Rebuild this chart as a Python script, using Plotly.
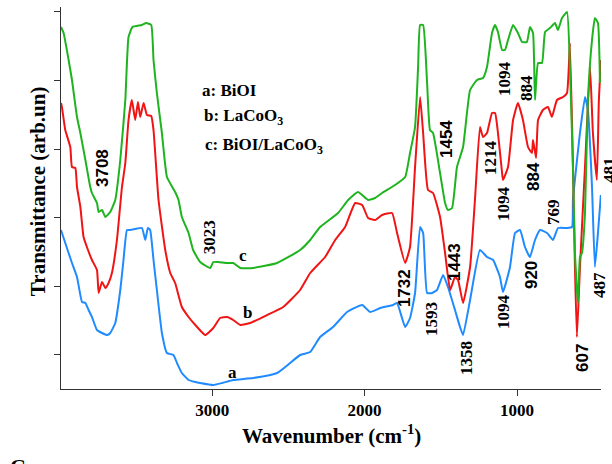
import plotly.graph_objects as go

# ---- data (wavenumber in cm^-1, transmittance in arbitrary units) ----
wn_a = [3992,3964,3920,3887,3854,3832,3811,3789,3756,3723,3690,3669,3636,3603,3582,3559,3538,3505,3461,3439,
        3422,3407,3385,3363,3330,3297,3254,3231,3199,3155,3111,3079,2993,2934,2862,2731,2574,2423,2357,2292,
        2207,2115,2016,1964,1898,1813,1787,1734,1702,1669,1636,1616,1590,1557,1525,1485,1453,1407,1374,1354,
        1308,1243,1197,1157,1112,1092,1046,1013,980,948,915,882,849,803,764,731,672,639,633,587,
        554,535,508,489,469,450]
t_a = [159,146,126,112,87,86,79,72,59,56,54,56,66,99,129,159,159,160,161,149,
       161,159,129,99,56,36,34,26,16,9,7,6,4,6,9,11,16,34,37,52,
       62,77,84,77,81,84,86,62,71,96,162,156,96,96,99,114,102,79,62,54,
       89,139,132,129,112,97,122,156,159,142,132,149,159,156,149,161,161,162,189,256,
       292,279,202,122,156,194]

wn_b = [3992,3986,3964,3931,3920,3898,3887,3865,3844,3822,3789,3756,3745,3723,3701,3680,3658,3625,3592,3570,
        3549,3527,3505,3487,3472,3450,3428,3400,3385,3352,3308,3275,3243,3199,3155,3111,3046,2993,2948,2902,
        2862,2816,2751,2639,2534,2423,2357,2259,2193,2128,2062,2016,1977,1931,1885,1820,1787,1734,1702,1669,
        1636,1616,1584,1551,1505,1472,1439,1407,1387,1354,1308,1276,1243,1223,1197,1164,1144,1125,1098,1092,
        1059,1026,994,961,928,902,895,875,862,830,797,771,738,698,672,653,633,620,607,587,
        554,521,502,476,463,450]
t_b = [286,282,259,242,222,221,202,182,152,142,129,119,96,107,101,106,116,149,202,226,
       269,289,269,287,272,286,274,273,259,189,139,116,106,82,72,64,54,61,71,72,
       69,64,66,74,82,99,116,132,149,162,186,184,171,169,174,176,156,126,142,222,
       292,256,199,196,172,136,99,112,109,86,122,189,262,252,256,276,276,256,216,209,
       222,269,286,269,242,236,249,231,269,279,282,272,289,292,296,346,222,122,52,122,
       222,322,256,209,289,329]

wn_c = [3992,3975,3942,3920,3887,3865,3832,3800,3789,3756,3745,3723,3701,3669,3636,3603,3570,3549,3523,3461,
        3433,3400,3385,3363,3330,3297,3243,3221,3199,3155,3125,3079,3013,2993,2961,2902,2862,2816,2731,2574,
        2423,2357,2292,2174,2108,2043,1977,1931,1885,1800,1734,1702,1669,1649,1636,1616,1590,1571,1551,1505,
        1472,1453,1426,1394,1354,1308,1262,1223,1197,1164,1144,1125,1098,1079,1059,1026,994,967,935,915,
        895,882,862,836,816,784,751,731,705,672,653,633,620,600,587,574,554,535,508,489,
        469,456]
t_c = [362,356,329,309,272,256,229,202,196,186,177,179,172,177,189,229,289,352,362,364,
       366,364,329,296,256,212,197,189,172,156,139,127,121,127,127,126,126,121,121,126,
       139,149,162,176,189,197,189,191,196,204,212,236,262,322,364,364,306,259,256,216,
       186,179,181,222,242,299,309,311,322,356,364,357,339,339,349,364,356,347,347,362,
       356,289,326,326,357,361,366,359,371,377,322,222,136,86,132,136,176,289,349,371,
       366,306]

x_ticks = [3000, 2000, 1000]
x_tick_text = ["3000", "2000", "1000"]
y_ticks = [35, 103, 172, 240, 309, 378]

peak_labels = ["3708", "3023", "1732", "1593", "1454", "1443", "1358", "1214", "1094", "884",
               "1094", "884", "1094", "920", "769", "607", "487"]
peak_x = [3723, 3020, 1741, 1564, 1466, 1413, 1335, 1177, 1085, 941,
          1092, 895, 1092, 908, 764, 574, 462]
peak_y = [221, 152, 101, 70, 250, 127, 31, 231, 310, 301,
          185, 212, 77, 114, 177, 31, 104]
peak_sans = [True, False, True, False, True, True, False, False, False, False,
             False, True, False, True, False, True, False]

curve_letters = ["a", "b", "c"]
letter_x = [2869, 2770, 2797]
letter_y = [17, 77, 134]

legend_lines = ["a: BiOI", "b: LaCoO<sub>3</sub>", "c: BiOI/LaCoO<sub>3</sub>"]
legend_x = [3079, 3066, 3059]
legend_y = [299, 272, 243]

BLUE = "#1f8bff"
RED = "#f01414"
GREEN = "#1fb41f"
SERIF = "Liberation Serif"
SANS = "Liberation Sans"

fig = go.Figure()
for xs, ys, col in ((wn_a, t_a, BLUE), (wn_b, t_b, RED), (wn_c, t_c, GREEN)):
    fig.add_trace(go.Scatter(x=xs, y=ys, mode="lines",
                             line=dict(color=col, width=2, shape="spline", smoothing=0.4),
                             showlegend=False))

ann = []
for txt, x, y, sans in zip(peak_labels, peak_x, peak_y, peak_sans):
    ann.append(dict(x=x, y=y, xref="x", yref="y", text=("<b>%s</b>" % txt) if not sans else txt,
                    textangle=-90, showarrow=False,
                    font=dict(family=SANS if sans else SERIF, size=17, color="black",
                              weight="bold" if sans else "normal")))
# label at the right edge, partly cut off (beyond the axis range)
ann.append(dict(x=1.036, y=0.573, xref="paper", yref="paper", text="<b>481</b>", textangle=-90,
                showarrow=False, font=dict(family=SERIF, size=17, color="black")))
for txt, x, y in zip(curve_letters, letter_x, letter_y):
    ann.append(dict(x=x, y=y, xref="x", yref="y", text="<b>%s</b>" % txt, showarrow=False,
                    font=dict(family=SERIF, size=17, color="black")))
for txt, x, y in zip(legend_lines, legend_x, legend_y):
    ann.append(dict(x=x, y=y, xref="x", yref="y", text="<b>%s</b>" % txt, showarrow=False,
                    xanchor="left", font=dict(family=SERIF, size=17, color="black")))
# axis titles
ann.append(dict(x=-0.0685, y=0.518, xref="paper", yref="paper", text="<b>Transmittance (arb.un)</b>",
                textangle=-90, showarrow=False, font=dict(family=SERIF, size=21, color="black")))
ann.append(dict(x=0.5, y=-0.16, xref="paper", yref="paper", text="<b>Wavenumber (cm<sup>-1</sup>)</b>",
                showarrow=False, font=dict(family=SERIF, size=21, color="black")))
# cut-off panel letters
ann.append(dict(x=-0.056, y=1.013, xref="paper", yref="paper", text="<b>B</b>", showarrow=False,
                yanchor="bottom", font=dict(family=SERIF, size=22, color="black")))
ann.append(dict(x=-0.08, y=-0.165, xref="paper", yref="paper", text="<b>C</b>", showarrow=False,
                yanchor="top", xanchor="center", font=dict(family=SERIF, size=22, color="black")))

fig.update_layout(
    width=612, height=464,
    margin=dict(l=61, r=11, t=7, b=75),
    paper_bgcolor="white", plot_bgcolor="white",
    annotations=ann,
    xaxis=dict(range=[3992, 449], tickvals=x_ticks, ticktext=x_tick_text, ticks="outside", ticklen=6,
               tickwidth=1, tickcolor="#333", showline=True, linecolor="#333", linewidth=1,
               showgrid=False, zeroline=False,
               tickfont=dict(family=SERIF, size=17, color="black", weight="bold")),
    yaxis=dict(range=[0, 382], tickvals=y_ticks, ticks="outside", ticklen=6, tickwidth=1, tickcolor="#333",
               showticklabels=False, showline=True, linecolor="#333", linewidth=1,
               showgrid=False, zeroline=False),
)

fig.write_html("out.html")
